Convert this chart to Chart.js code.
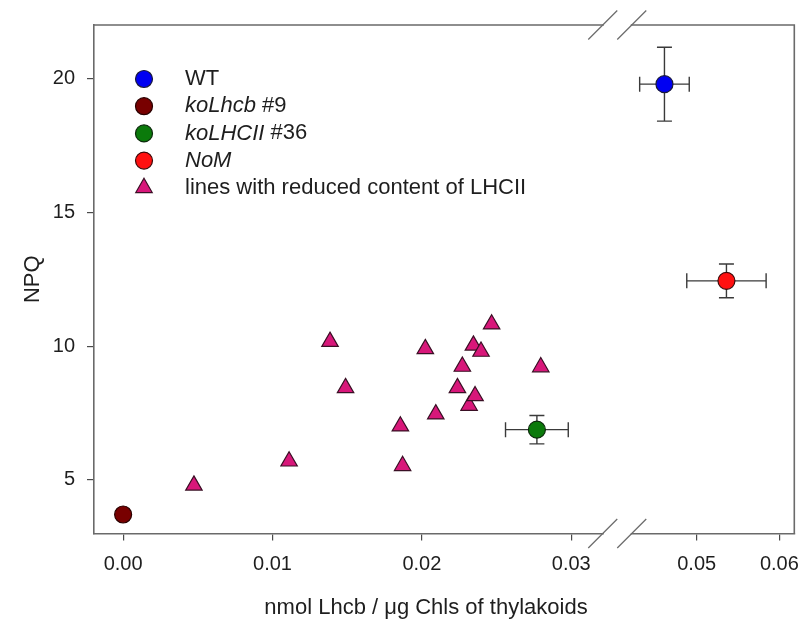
<!DOCTYPE html>
<html>
<head>
<meta charset="utf-8">
<script src="https://cdn.jsdelivr.net/npm/chart.js@4.4.1/dist/chart.umd.min.js"></script>
<style>
  html, body { margin: 0; padding: 0; background: #ffffff; }
  #wrap { width: 805px; height: 623px; }
</style>
</head>
<body>
<div id="wrap"><canvas id="c" width="805" height="623"></canvas></div>
<script>
// NPQ against Lhcb content of thylakoids (nmol Lhcb / µg Chls)
const WT_X = [0.0461];
const WT_Y = [19.79];
const WT_XERR = [0.0030];
const WT_YERR = [1.38];

const KOLHCB_X = [0.0];
const KOLHCB_Y = [3.71];

const KOLHCII_X = [0.0277];
const KOLHCII_Y = [6.88];
const KOLHCII_XERR = [0.0021];
const KOLHCII_YERR = [0.53];

const NOM_X = [0.0536];
const NOM_Y = [12.44];
const NOM_XERR = [0.0048];
const NOM_YERR = [0.63];

// lines with reduced content of LHCII
const RED_X = [0.00474, 0.01111, 0.01385, 0.01489, 0.01856, 0.01871, 0.02023, 0.02093,
               0.02238, 0.02271, 0.02316, 0.02345, 0.02356, 0.02396, 0.02467, 0.02796];
const RED_Y = [4.80, 5.70, 10.17, 8.44, 7.01, 5.53, 9.90, 7.46,
               8.44, 9.24, 7.78, 10.03, 8.14, 9.80, 10.82, 9.22];

// axis ticks (x axis is broken between 0.03 and 0.05)
const X_TICKS_LOW = [0.00, 0.01, 0.02, 0.03];
const X_TICKS_HIGH = [0.05, 0.06];
const Y_TICKS = [5, 10, 15, 20];

const FONT = "'Liberation Sans', Arial, Helvetica, sans-serif";
const AXIS_COLOR = '#6a6a6a';
const TICK_COLOR = '#4a4a4a';
const TEXT_COLOR = '#1e1e1e';

const pts = (xs, ys) => xs.map((x, i) => ({ x: x, y: ys[i] }));

const datasets = [
  { label: 'WT', labelParts: [['WT', false]], data: pts(WT_X, WT_Y), xAxisID: 'xHigh',
    errX: WT_XERR, errY: WT_YERR,
    pointStyle: 'circle', pointRadius: 8.5, backgroundColor: '#0000f2', borderColor: '#1a1a3a' },
  { label: 'koLhcb #9', labelParts: [['koLhcb', true], [' #9', false]], data: pts(KOLHCB_X, KOLHCB_Y), xAxisID: 'xLow',
    pointStyle: 'circle', pointRadius: 8.5, backgroundColor: '#780000', borderColor: '#2a0000' },
  { label: 'koLHCII #36', labelParts: [['koLHCII', true], [' #36', false]], data: pts(KOLHCII_X, KOLHCII_Y), xAxisID: 'xLow',
    errX: KOLHCII_XERR, errY: KOLHCII_YERR,
    pointStyle: 'circle', pointRadius: 8.5, backgroundColor: '#0b7a0b', borderColor: '#0c2a0c' },
  { label: 'NoM', labelParts: [['NoM', true]], data: pts(NOM_X, NOM_Y), xAxisID: 'xHigh',
    errX: NOM_XERR, errY: NOM_YERR,
    pointStyle: 'circle', pointRadius: 8.5, backgroundColor: '#ff1010', borderColor: '#3a0a0a' },
  { label: 'lines with reduced content of LHCII', labelParts: [['lines with reduced content of LHCII', false]],
    data: pts(RED_X, RED_Y), xAxisID: 'xLow',
    pointStyle: 'triangle', pointRadius: 9.5, backgroundColor: '#d8177a', borderColor: '#3a1025' }
];
datasets.forEach(d => {
  d.borderWidth = 1.2;
  d.pointBorderWidth = 1.2;
  d.pointHoverRadius = d.pointRadius;
  d.showLine = false;
});

// error bars, drawn through the scales behind the markers
const errorBars = {
  id: 'errorBars',
  beforeDatasetsDraw(chart) {
    const ctx = chart.ctx;
    const ys = chart.scales.y;
    ctx.save();
    ctx.strokeStyle = '#3a3a3a';
    ctx.lineWidth = 1.4;
    const cap = 7.5;
    chart.data.datasets.forEach(ds => {
      const xs = chart.scales[ds.xAxisID];
      ds.data.forEach((p, i) => {
        const px = xs.getPixelForValue(p.x);
        const py = ys.getPixelForValue(p.y);
        if (ds.errY) {
          const t = ys.getPixelForValue(p.y + ds.errY[i]);
          const b = ys.getPixelForValue(p.y - ds.errY[i]);
          ctx.beginPath();
          ctx.moveTo(px, t); ctx.lineTo(px, b);
          ctx.moveTo(px - cap, t); ctx.lineTo(px + cap, t);
          ctx.moveTo(px - cap, b); ctx.lineTo(px + cap, b);
          ctx.stroke();
        }
        if (ds.errX) {
          const l = xs.getPixelForValue(p.x - ds.errX[i]);
          const r = xs.getPixelForValue(p.x + ds.errX[i]);
          ctx.beginPath();
          ctx.moveTo(l, py); ctx.lineTo(r, py);
          ctx.moveTo(l, py - cap); ctx.lineTo(l, py + cap);
          ctx.moveTo(r, py - cap); ctx.lineTo(r, py + cap);
          ctx.stroke();
        }
      });
    });
    ctx.restore();
  }
};

// frame with the axis break, titles and the in-plot legend
const decorations = {
  id: 'decorations',
  afterDatasetsDraw(chart) {
    const ctx = chart.ctx;
    const a = chart.chartArea;
    const brk = chart.scales.xLow.right;
    const half = 14.5;
    ctx.save();
    // top and right frame lines
    ctx.strokeStyle = AXIS_COLOR;
    ctx.lineWidth = 1.6;
    ctx.beginPath();
    ctx.moveTo(a.left, a.top); ctx.lineTo(a.right, a.top); ctx.lineTo(a.right, a.bottom);
    ctx.stroke();
    // gaps in the frame at the break
    ctx.fillStyle = '#ffffff';
    ctx.fillRect(brk - half + 1, a.top - 3, 2 * half - 2, 6);
    ctx.fillRect(brk - half + 1, a.bottom - 3, 2 * half - 2, 6);
    // break marks
    ctx.lineWidth = 1.3;
    [a.top, a.bottom].forEach(yy => {
      [brk - half, brk + half].forEach(xx => {
        ctx.beginPath();
        ctx.moveTo(xx - 14.5, yy + 14.5);
        ctx.lineTo(xx + 14.5, yy - 14.5);
        ctx.stroke();
      });
    });

    // axis titles
    ctx.fillStyle = TEXT_COLOR;
    ctx.font = '22px ' + FONT;
    ctx.textAlign = 'center';
    ctx.textBaseline = 'middle';
    ctx.fillText('nmol Lhcb / \u03bcg Chls of thylakoids', a.left + 332, a.bottom + 74);
    ctx.save();
    ctx.translate(33, (a.top + a.bottom) / 2);
    ctx.rotate(-Math.PI / 2);
    ctx.fillText('NPQ', 0, 0);
    ctx.restore();

    // legend
    const lx = a.left + 50;
    const tx = a.left + 91;
    const ly0 = a.top + 54;
    const step = 27.2;
    chart.data.datasets.forEach((ds, i) => {
      const y = ly0 + i * step;
      ctx.fillStyle = ds.backgroundColor;
      ctx.strokeStyle = ds.borderColor;
      ctx.lineWidth = ds.pointBorderWidth;
      Chart.helpers.drawPoint(ctx, { pointStyle: ds.pointStyle, radius: ds.pointRadius, rotation: 0, borderWidth: ds.pointBorderWidth }, lx, y);
      let x = tx;
      ctx.textAlign = 'left';
      ctx.textBaseline = 'middle';
      ctx.fillStyle = TEXT_COLOR;
      ds.labelParts.forEach(([txt, italic]) => {
        ctx.font = (italic ? 'italic ' : '') + '22px ' + FONT;
        ctx.fillText(txt, x, y);
        x += ctx.measureText(txt).width;
      });
    });
    ctx.restore();
  }
};

// keep the plot frame fixed: no extra room reserved for overhanging tick labels
const noOverhang = s => { s.paddingLeft = 0; s.paddingRight = 0; s.paddingTop = 0; s.paddingBottom = 0; };

const xScaleBase = (min, max, weight, ticksArr) => ({
  type: 'linear',
  position: 'bottom',
  stack: 'x',
  stackWeight: weight,
  min: min,
  max: max,
  afterBuildTicks: s => { s.ticks = ticksArr.map(v => ({ value: v })); },
  afterFit: s => { s.height = 89.5; noOverhang(s); },
  grid: { drawOnChartArea: false, drawTicks: true, tickLength: 7, color: TICK_COLOR, lineWidth: 1.2 },
  border: { display: true, color: AXIS_COLOR, width: 1.6 },
  ticks: {
    color: TEXT_COLOR, font: { family: FONT, size: 20 }, padding: 12,
    maxRotation: 0, autoSkip: false, includeBounds: false,
    callback: v => Number(v).toFixed(2)
  }
});

new Chart(document.getElementById('c'), {
  type: 'scatter',
  data: { datasets: datasets },
  options: {
    responsive: false,
    animation: false,
    devicePixelRatio: 1,
    layout: { padding: { left: 0, top: 25, right: 4.5, bottom: 0 } },
    plugins: { legend: { display: false }, tooltip: { enabled: false } },
    scales: {
      xLow: xScaleBase(-0.00195, 0.03308, 525.5, X_TICKS_LOW),
      xHigh: xScaleBase(0.04039, 0.06181, 177.8, X_TICKS_HIGH),
      y: {
        type: 'linear',
        position: 'left',
        min: 3,
        max: 22,
        afterBuildTicks: s => { s.ticks = Y_TICKS.map(v => ({ value: v })); },
        afterFit: s => { s.width = 94; noOverhang(s); },
        grid: { drawOnChartArea: false, drawTicks: true, tickLength: 7, color: TICK_COLOR, lineWidth: 1.2 },
        border: { display: true, color: AXIS_COLOR, width: 1.6 },
        ticks: { color: TEXT_COLOR, font: { family: FONT, size: 20 }, padding: 12, includeBounds: false,
                 callback: v => String(v) }
      }
    }
  },
  plugins: [errorBars, decorations]
});
</script>
</body>
</html>
